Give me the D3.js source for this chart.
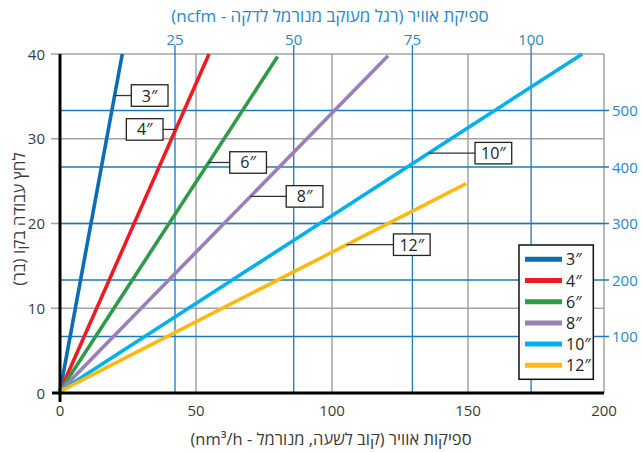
<!DOCTYPE html>
<html><head><meta charset="utf-8">
<script src="https://cdn.jsdelivr.net/npm/d3@7"></script>
<style>html,body{margin:0;padding:0;background:#fff}svg{display:block}text{font-family:"Open Sans","Liberation Sans","DejaVu Sans",sans-serif}</style>
</head><body>
<svg id="c" width="643" height="452"></svg>
<script>
// ---- data ----
const sizes = ["3″","4″","6″","8″","10″","12″"];
const seriesColors = ["#0b6db4","#ec1c24","#2f9a48","#9a80b9","#00b0eb","#fdb913"];
const startPressure = 0.2;                 // bar at 0 flow
const endFlow = [22.9, 54.8, 80.0, 120.6, 192.0, 149.3];   // nm3/h
const endPressure = [40, 40, 39.7, 39.8, 40, 24.7];        // bar
const labelPressure = [35.1, 31.1, 27.2, 23.2, 28.3, 17.5]; // where label leader meets line
const xTicks = [0,50,100,150,200];
const yTicks = [0,10,20,30,40];
const cfmTicks = [25,50,75,100];
const psiTicks = [100,200,300,400,500];
const titleBottom = "ספיקות אוויר (קוב לשעה, מנורמל - nm³/h)";
const titleTop = "ספיקת אוויר (רגל מעוקב מנורמל לדקה - ncfm)";
const titleLeft = "לחץ עבודה בקו (בר)";

// ---- layout ----
const labelOffset = [16.7, -12.7, 21, 35.7, 46.3, 46.7]; // px from line to box edge
const L=60, R=604, T=54, B=393;
const svg = d3.select("#c");
const x = d3.scaleLinear().domain([0,200]).range([L,R]);
const y = d3.scaleLinear().domain([0,40]).range([B,T]);
const xTop = d3.scaleLinear().domain([0,25]).range([56.3,175]);
const yRight = d3.scaleLinear().domain([0,600]).range([B,T]);
const grey="#a3a3a3", blue="#1a78bd", tblue="#2b87c5", dark="#3a3a3a";

// grey grid
const g = svg.append("g");
g.selectAll(".gv").data([50,100,150,200]).enter().append("line")
  .attr("x1",d=>x(d)).attr("x2",d=>x(d)).attr("y1",T).attr("y2",B)
  .attr("stroke",grey).attr("stroke-width",1.5);
g.selectAll(".gh").data([10,20,30,40]).enter().append("line")
  .attr("x1",L-9).attr("x2",R).attr("y1",d=>y(d)).attr("y2",d=>y(d))
  .attr("stroke",grey).attr("stroke-width",1.5);
// blue grid
g.selectAll(".bv").data(cfmTicks).enter().append("line")
  .attr("x1",d=>xTop(d)).attr("x2",d=>xTop(d)).attr("y1",T-9).attr("y2",B)
  .attr("stroke",blue).attr("stroke-width",1.3);
g.selectAll(".bh").data(psiTicks).enter().append("line")
  .attr("x1",L).attr("x2",R+5).attr("y1",d=>yRight(d)).attr("y2",d=>yRight(d))
  .attr("stroke",blue).attr("stroke-width",1.3);

// series lines
const lineGen = d3.line().x(d=>x(d[0])).y(d=>y(d[1]));
sizes.forEach((s,i)=>{
  svg.append("path").datum([[0,startPressure],[endFlow[i],endPressure[i]]])
    .attr("d",lineGen).attr("fill","none").attr("stroke",seriesColors[i])
    .attr("stroke-width",3.6);
});

// axes
svg.append("line").attr("x1",L).attr("x2",L).attr("y1",T).attr("y2",B+9)
  .attr("stroke","#000").attr("stroke-width",3);
svg.append("line").attr("x1",L-8).attr("x2",R).attr("y1",B).attr("y2",B)
  .attr("stroke","#000").attr("stroke-width",3);

// tick labels
svg.selectAll(".xl").data(xTicks).enter().append("text")
  .attr("x",d=>x(d)).attr("y",B+23).attr("text-anchor","middle")
  .attr("font-size",15).attr("fill",dark).text(d=>d);
svg.selectAll(".yl").data(yTicks).enter().append("text")
  .attr("x",L-15).attr("y",d=>y(d)+5.5).attr("text-anchor","end")
  .attr("font-size",15).attr("fill",dark).text(d=>d);
svg.selectAll(".tl").data(cfmTicks).enter().append("text")
  .attr("x",d=>xTop(d)).attr("y",T-9).attr("text-anchor","middle")
  .attr("font-size",15).attr("fill",tblue).text(d=>d);
svg.selectAll(".rl").data(psiTicks).enter().append("text")
  .attr("x",R+8).attr("y",d=>yRight(d)+5.5).attr("text-anchor","start")
  .attr("font-size",15).attr("fill",tblue).text(d=>d);

// titles
svg.append("text").attr("x",331).attr("y",445).attr("text-anchor","middle")
  .attr("direction","rtl").attr("font-size",16.5).attr("fill",dark).text(titleBottom);
svg.append("text").attr("x",330).attr("y",22).attr("text-anchor","middle")
  .attr("direction","rtl").attr("font-size",17).attr("fill",tblue).text(titleTop);
svg.append("text").attr("transform","translate(25,219) rotate(-90)")
  .attr("text-anchor","middle").attr("direction","rtl")
  .attr("font-size",17).attr("fill",dark).text(titleLeft);

// line labels
const bw=36.7, bh=21.5;
sizes.forEach((s,i)=>{
  const p = labelPressure[i];
  const f = endFlow[i]*(p-startPressure)/(endPressure[i]-startPressure);
  const ax = x(f), ay = y(p);
  const off = labelOffset[i];
  const bx = off>=0 ? ax+off : ax+off-bw;
  const edge = off>=0 ? bx : bx+bw;
  svg.append("line").attr("x1",ax).attr("x2",edge).attr("y1",ay).attr("y2",ay)
    .attr("stroke","#333").attr("stroke-width",1.3);
  svg.append("rect").attr("x",bx).attr("y",ay-bh/2).attr("width",bw).attr("height",bh)
    .attr("fill","#fff").attr("stroke","#222").attr("stroke-width",1.3);
  svg.append("text").attr("x",bx+bw/2).attr("y",ay+6).attr("text-anchor","middle")
    .attr("font-size",16).attr("fill","#222").text(s);
});

// legend
const lg = svg.append("g");
lg.append("rect").attr("x",519).attr("y",245).attr("width",74.3).attr("height",134.3)
  .attr("fill","#fff").attr("stroke","#111").attr("stroke-width",1.5);
sizes.forEach((s,i)=>{
  const yy = 259.3 + i*21.2;
  lg.append("line").attr("x1",525).attr("x2",562).attr("y1",yy).attr("y2",yy)
    .attr("stroke",seriesColors[i]).attr("stroke-width",5);
  lg.append("text").attr("x",566).attr("y",yy+6).attr("font-size",16)
    .attr("fill","#222").text(s);
});
</script>
</body></html>
